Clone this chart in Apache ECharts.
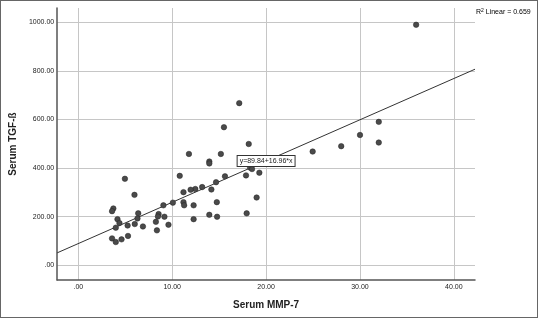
<!DOCTYPE html>
<html>
<head>
<meta charset="utf-8">
<script src="https://cdn.jsdelivr.net/npm/echarts@6/dist/echarts.min.js"></script>
<style>
html,body{margin:0;padding:0;background:#fff;}
#c{width:538px;height:318px;}
</style>
</head>
<body>
<div id="c"></div>
<script>
// ---- data ----
const xTicks = [0, 10, 20, 30, 40];
const xTickLabels = ['.00', '10.00', '20.00', '30.00', '40.00'];
const yTicks = [0, 200, 400, 600, 800, 1000];
const yTickLabels = ['.00', '200.00', '400.00', '600.00', '800.00', '1000.00'];
const xRange = [-2.25, 42.25];
const yRange = [-60, 1058];

const mmp7 = [35.98, 17.14, 15.51, 32.0, 32.0, 30.0, 28.0, 24.96, 18.15, 11.78,
  15.18, 13.95, 13.95, 18.3, 18.5, 19.28, 17.86, 15.62, 10.80, 4.96,
  14.67, 13.19, 12.46, 11.96, 14.17, 11.20, 5.98, 10.07, 11.20, 11.27,
  12.28, 14.75, 9.06, 18.99, 8.55, 8.48, 9.17, 13.95, 14.78, 17.93,
  12.28, 8.26, 9.60, 8.37, 3.73, 3.59, 4.17, 6.38, 6.30, 4.38,
  6.01, 5.25, 3.99, 6.88, 3.59, 3.99, 4.60, 5.29];
const tgfb = [989, 667, 568, 590, 505, 536, 490, 468, 499, 458,
  458, 427, 419, 402, 396, 381, 370, 366, 368, 356,
  342, 322, 314, 311, 312, 301, 290, 258, 260, 247,
  247, 260, 247, 279, 211, 201, 200, 208, 200, 214,
  190, 179, 167, 144, 234, 223, 190, 214, 193, 174,
  170, 164, 155, 160, 111, 96, 107, 121];

const intercept = 89.84;
const slope = 16.96;
const r2 = '0.659';
const annoText = 'y=89.84+16.96*x';
const annoPos = [20.0, 429];

// ---- build ----
const points = mmp7.map((x, i) => [x, tgfb[i]]);
const fitLine = xRange.map(x => [x, intercept + slope * x]);

const chart = echarts.init(document.getElementById('c'), null, {renderer: 'canvas'});
const font = 'Liberation Sans, Arial, sans-serif';
chart.setOption({
  animation: false,
  backgroundColor: '#fff',
  grid: {left: 54, right: 63, top: 8, bottom: 38},
  xAxis: {
    type: 'value', min: xRange[0], max: xRange[1],
    name: 'Serum MMP-7', nameLocation: 'middle', nameGap: 20,
    nameTextStyle: {fontFamily: font, fontWeight: 'bold', fontSize: 10, color: '#222'},
    axisLine: {show: true, onZero: false, lineStyle: {color: '#555', width: 1.5}},
    axisTick: {show: false, customValues: xTicks},
    axisLabel: {customValues: xTicks, fontFamily: font, fontSize: 7, color: '#222', margin: 4,
      formatter: v => { const i = xTicks.indexOf(v); return i >= 0 ? xTickLabels[i] : ''; }},
    splitLine: {show: true, lineStyle: {color: '#c6c6c6', width: 1}}
  },
  yAxis: {
    type: 'value', min: yRange[0], max: yRange[1],
    name: 'Serum TGF-ß', nameLocation: 'middle', nameGap: 36,
    nameTextStyle: {fontFamily: font, fontWeight: 'bold', fontSize: 10, color: '#222'},
    axisLine: {show: true, onZero: false, lineStyle: {color: '#555', width: 1.5}},
    axisTick: {show: false, customValues: yTicks},
    axisLabel: {customValues: yTicks, fontFamily: font, fontSize: 7, color: '#222', margin: 3,
      formatter: v => { const i = yTicks.indexOf(v); return i >= 0 ? yTickLabels[i] : ''; }},
    splitLine: {show: true, lineStyle: {color: '#c6c6c6', width: 1}}
  },
  series: [
    {
      type: 'line', data: fitLine, symbol: 'none', silent: true,
      lineStyle: {color: '#333', width: 1}, z: 3,
      markPoint: {
        symbol: 'rect', symbolSize: 0,
        data: [{coord: annoPos}],
        label: {show: true, position: 'inside', formatter: annoText,
          fontFamily: font, fontSize: 7, color: '#222',
          backgroundColor: '#fff', borderColor: '#333', borderWidth: 1,
          padding: [2, 2, 1, 2]}
      }
    },
    {
      type: 'scatter', data: points, symbolSize: 5.5, z: 4,
      itemStyle: {color: '#4a4a4a', borderColor: '#222', borderWidth: 0.5, opacity: 1}
    }
  ],
  graphic: [
    {type: 'rect', silent: true, shape: {x: 0, y: 0, width: 538, height: 318},
      style: {fill: 'none', stroke: '#666', lineWidth: 2}, z: 100},
    {type: 'text', left: 476, top: 8, silent: true,
      style: {text: '{b|R}{s|2}{b| Linear = ' + r2 + '}',
        rich: {b: {fontFamily: font, fontSize: 7, color: '#222', verticalAlign: 'bottom'},
               s: {fontFamily: font, fontSize: 5, color: '#222', verticalAlign: 'bottom', padding: [0, 0, 3, 0]}}}}
  ]
});
</script>
</body>
</html>
